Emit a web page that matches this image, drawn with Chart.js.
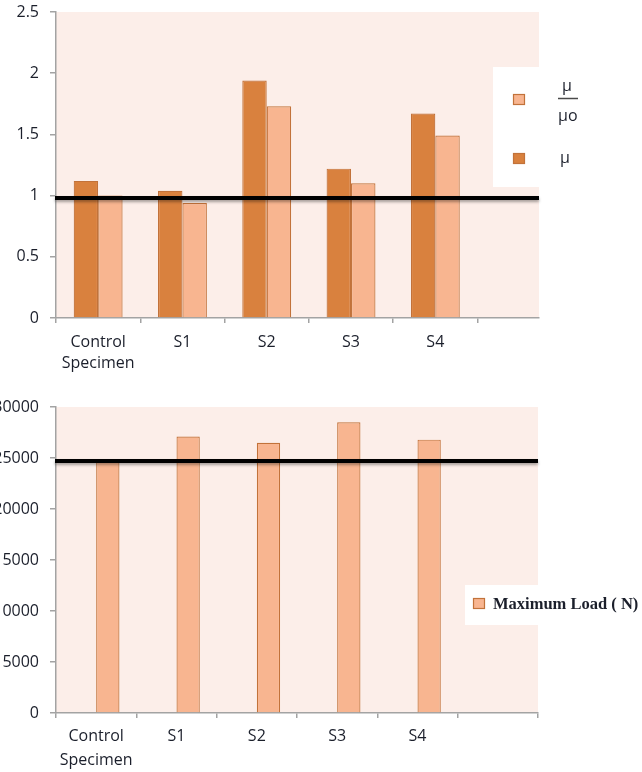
<!DOCTYPE html>
<html>
<head>
<meta charset="utf-8">
<script src="https://cdn.jsdelivr.net/npm/chart.js@4/dist/chart.umd.min.js"></script>
<style>
  html, body { margin: 0; padding: 0; background: #ffffff; }
  canvas { display: block; }
</style>
</head>
<body>
<canvas id="muChart" width="642" height="385"></canvas>
<canvas id="loadChart" width="642" height="387"></canvas>
<script>
// Specimen groups along the x axis (the last slot is left empty)
const categories = [['Control', 'Specimen'], 'S1', 'S2', 'S3', 'S4', ''];

// Friction coefficient and its ratio to the control value
const muValues = [1.12, 1.04, 1.94, 1.22, 1.67];
const muRatioValues = [1.00, 0.94, 1.73, 1.10, 1.49];

// Maximum load per specimen, in newtons
const maxLoadValues = [24700, 27100, 26500, 28500, 26800];

// Horizontal reference levels (control specimen)
const muReference = 0.98;
const loadReference = 24700;

// Value-axis ranges
const muAxis = { max: 2.5, step: 0.5 };
const loadAxis = { max: 30000, step: 5000 };

const COLORS = {
  plot: '#FCEEE9',
  dark: '#D9813E',
  light: '#F8B590',
  edge: '#C2723A',
  axis: '#A3A3A3',
  text: '#1b1f2b'
};
const SANS = "'Open Sans', 'DejaVu Sans', sans-serif";

const toPoints = vals => vals.map((v, i) => ({ x: i, y: v }));

// Pink plot-area fill
const plotBackground = {
  id: 'plotBackground',
  beforeDraw(chart) {
    const { ctx, chartArea: a } = chart;
    ctx.save();
    ctx.fillStyle = COLORS.plot;
    ctx.fillRect(a.left, a.top, a.right - a.left, a.bottom - a.top);
    ctx.restore();
  }
};

// Thick black reference line with a soft drop shadow
const referenceLine = {
  id: 'referenceLine',
  afterDatasetsDraw(chart, args, opts) {
    const { ctx, chartArea: a, scales: { y } } = chart;
    const py = y.getPixelForValue(opts.value);
    ctx.save();
    ctx.shadowColor = 'rgba(0,0,0,0.35)';
    ctx.shadowBlur = 3;
    ctx.shadowOffsetY = 2;
    ctx.strokeStyle = '#000000';
    ctx.lineWidth = 4;
    ctx.beginPath();
    ctx.moveTo(a.left - 1, py);
    ctx.lineTo(a.right, py);
    ctx.stroke();
    ctx.restore();
  }
};

// Boxed legend drawn over the right edge of the plot
const boxedLegend = {
  id: 'boxedLegend',
  afterDraw(chart, args, opts) {
    if (!opts.box) return;
    const { ctx } = chart;
    const b = opts.box;
    ctx.save();
    ctx.fillStyle = '#ffffff';
    ctx.fillRect(b.x, b.y, b.w, b.h);
    opts.items.forEach(it => {
      ctx.fillStyle = it.fill;
      ctx.strokeStyle = COLORS.edge;
      ctx.lineWidth = 1.2;
      ctx.fillRect(it.marker[0], it.marker[1], it.marker[2], it.marker[3]);
      ctx.strokeRect(it.marker[0] + 0.5, it.marker[1] + 0.5, it.marker[2] - 1, it.marker[3] - 1);
      ctx.fillStyle = COLORS.text;
      ctx.textBaseline = 'alphabetic';
      if (it.fraction) {
        const f = it.fraction;
        ctx.font = f.font;
        ctx.textAlign = 'center';
        ctx.fillText(f.top, f.cx, f.topBase);
        ctx.textAlign = 'left';
        ctx.fillText(f.bottom, f.x0, f.bottomBase);
        ctx.strokeStyle = '#4a4a4a';
        ctx.lineWidth = 1.5;
        ctx.beginPath();
        ctx.moveTo(f.x0, f.barY);
        ctx.lineTo(f.x1, f.barY);
        ctx.stroke();
      } else {
        ctx.font = it.font;
        ctx.textAlign = 'left';
        ctx.fillText(it.text, it.tx, it.ty);
      }
    });
    ctx.restore();
  }
};

function valueAxis(range, width) {
  return {
    min: 0,
    max: range.max,
    afterFit(scale) {
      scale.width = width;
      // let the top tick label hang above the plot instead of shrinking it
      scale.paddingTop = 0;
      scale.paddingBottom = 0;
    },
    border: { display: true, color: COLORS.axis, width: 1.5 },
    grid: { drawOnChartArea: false, drawTicks: true, tickLength: 6, color: COLORS.axis, lineWidth: 1.5 },
    ticks: {
      stepSize: range.step,
      padding: 11,
      color: COLORS.text,
      font: { family: SANS, size: 16 },
      callback: v => String(v)
    }
  };
}

function categoryAxis(maxValue, height, padding, lineHeight) {
  return {
    type: 'linear',
    bounds: 'data',
    offset: false,
    min: -0.5,
    max: maxValue,
    afterBuildTicks(scale) { scale.ticks = categories.map((c, i) => ({ value: i })); },
    afterFit(scale) { scale.height = height; },
    border: { display: true, color: COLORS.axis, width: 1.5 },
    grid: { offset: true, drawOnChartArea: false, drawTicks: true, tickLength: 5, color: COLORS.axis, lineWidth: 1.5 },
    ticks: {
      autoSkip: false,
      maxRotation: 0,
      minRotation: 0,
      padding: padding,
      color: COLORS.text,
      font: { family: SANS, size: 16, lineHeight: lineHeight },
      callback: v => categories[v]
    }
  };
}

const barStyle = {
  borderColor: COLORS.edge,
  borderWidth: 1.2,
  categoryPercentage: 0.58,
  barPercentage: 1.0
};

// Friction coefficient chart
new Chart(document.getElementById('muChart'), {
  type: 'bar',
  data: {
    datasets: [
      Object.assign({ label: 'μ', data: toPoints(muValues), backgroundColor: COLORS.dark }, barStyle),
      Object.assign({ label: 'μ/μo', data: toPoints(muRatioValues), backgroundColor: COLORS.light }, barStyle)
    ]
  },
  options: {
    responsive: false,
    animation: false,
    devicePixelRatio: 1,
    layout: { padding: { top: 12, right: 103, left: 0, bottom: 0 } },
    scales: {
      x: categoryAxis(5.23, 67, 9, 21 / 16),
      y: valueAxis(muAxis, 56)
    },
    plugins: {
      legend: { display: false },
      tooltip: { enabled: false },
      referenceLine: { value: muReference },
      boxedLegend: {
        box: { x: 493, y: 67, w: 149, h: 120 },
        items: [
          {
            marker: [513, 94, 12, 11], fill: COLORS.light,
            fraction: { font: `16px ${SANS}`, top: 'μ', bottom: 'μo', cx: 567, topBase: 91, x0: 558, x1: 578, barY: 98.5, bottomBase: 121 }
          },
          { marker: [513, 153, 12, 11], fill: COLORS.dark, font: `16px ${SANS}`, text: 'μ', tx: 560, ty: 163 }
        ]
      }
    }
  },
  plugins: [plotBackground, referenceLine, boxedLegend]
});

// Maximum load chart
new Chart(document.getElementById('loadChart'), {
  type: 'bar',
  data: {
    datasets: [
      Object.assign({ label: '', data: toPoints(maxLoadValues.map(() => null)), backgroundColor: COLORS.dark }, barStyle),
      Object.assign({ label: 'Maximum Load ( N)', data: toPoints(maxLoadValues), backgroundColor: COLORS.light }, barStyle)
    ]
  },
  options: {
    responsive: false,
    animation: false,
    devicePixelRatio: 1,
    layout: { padding: { top: 22, right: 104, left: 0, bottom: 0 } },
    scales: {
      x: categoryAxis(5.5, 59, 6, 24 / 16),
      y: valueAxis(loadAxis, 56)
    },
    plugins: {
      legend: { display: false },
      tooltip: { enabled: false },
      referenceLine: { value: loadReference },
      boxedLegend: {
        box: { x: 465, y: 200, w: 177, h: 40 },
        items: [
          { marker: [473, 213, 12, 11], fill: COLORS.light, font: "bold 16.5px 'Liberation Serif', 'Times New Roman', serif", text: 'Maximum Load ( N)', tx: 493, ty: 224 }
        ]
      }
    }
  },
  plugins: [plotBackground, referenceLine, boxedLegend]
});
</script>
</body>
</html>
